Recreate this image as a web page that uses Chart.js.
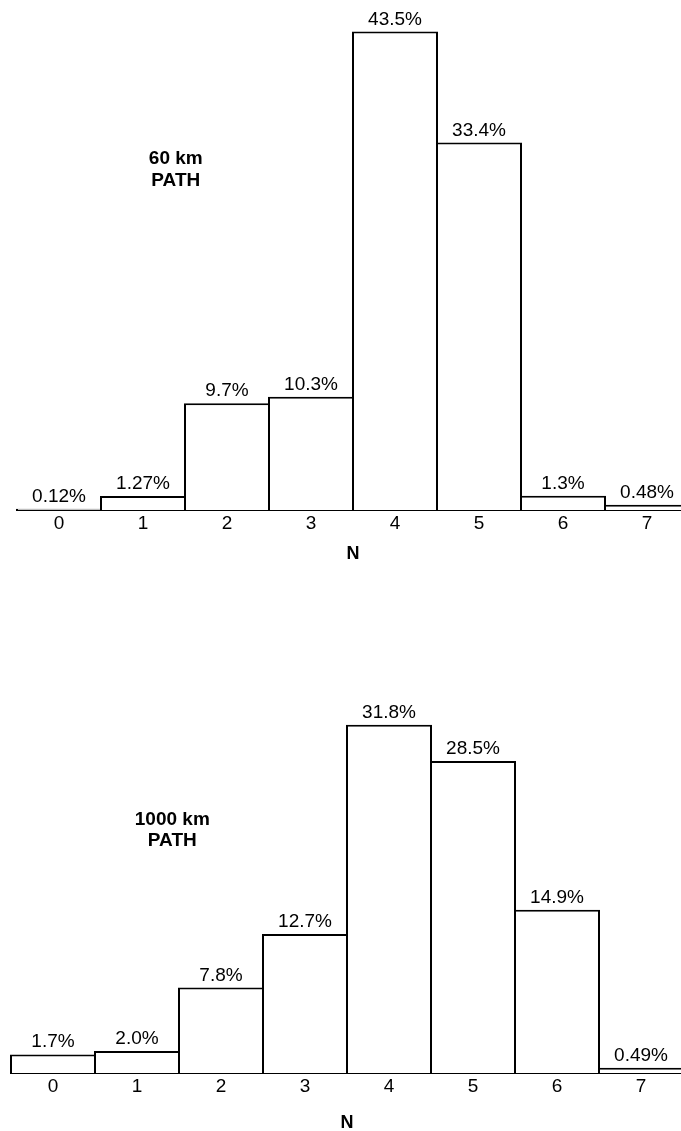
<!DOCTYPE html>
<html>
<head>
<meta charset="utf-8">
<script src="https://cdn.jsdelivr.net/npm/chart.js@4/dist/chart.umd.min.js"></script>
<style>
    html, body { margin: 0; padding: 0; background: #fff; }
    #page { position: relative; width: 681px; height: 1131px; overflow: hidden; background: #fff; }
    canvas { position: absolute; left: 0; }
    #chartTop { top: 0; }
    #chartBottom { top: 600px; }
</style>
</head>
<body>
<div id="page">
    <canvas id="chartTop" width="700" height="565"></canvas>
    <canvas id="chartBottom" width="700" height="534"></canvas>
</div>
<script>
const categories = ['0', '1', '2', '3', '4', '5', '6', '7'];

const path60Values = [0.12, 1.27, 9.7, 10.3, 43.5, 33.4, 1.3, 0.48];
const path60Labels = ['0.12%', '1.27%', '9.7%', '10.3%', '43.5%', '33.4%', '1.3%', '0.48%'];

const path1000Values = [1.7, 2.0, 7.8, 12.7, 31.8, 28.5, 14.9, 0.49];
const path1000Labels = ['1.7%', '2.0%', '7.8%', '12.7%', '31.8%', '28.5%', '14.9%', '0.49%'];

const FONT = "'Liberation Sans', Arial, sans-serif";

// value labels over each bar + the "xx km PATH" note
const barTextPlugin = {
    id: 'barText',
    afterDatasetsDraw(chart, args, opts) {
        const ctx = chart.ctx;
        const meta = chart.getDatasetMeta(0);
        ctx.save();
        ctx.fillStyle = '#000';
        ctx.textAlign = 'center';
        ctx.textBaseline = 'alphabetic';
        ctx.font = '19px ' + FONT;
        meta.data.forEach((bar, i) => {
            ctx.fillText(opts.labels[i], bar.x, bar.y - 7);
        });

        const xs = chart.scales.x, ys = chart.scales.y;
        ctx.font = 'bold 19px ' + FONT;
        ctx.textBaseline = 'middle';
        opts.note.lines.forEach((line, k) => {
            ctx.fillText(line, xs.getPixelForValue(opts.note.x), ys.getPixelForValue(opts.note.y[k]));
        });
        ctx.restore();
    }
};

function makeChart(canvasId, values, labels, note, yMax, padding, axisHeight) {
    return new Chart(document.getElementById(canvasId), {
        type: 'bar',
        data: {
            labels: categories,
            datasets: [{
                data: values,
                backgroundColor: '#fff',
                borderColor: '#000',
                borderWidth: 2,
                borderSkipped: 'start',
                categoryPercentage: 1,
                barPercentage: 86 / 84,
                clip: false
            }]
        },
        options: {
            responsive: false,
            animation: false,
            events: [],
            layout: { padding: padding },
            plugins: {
                legend: { display: false },
                tooltip: { enabled: false },
                barText: { labels: labels, note: note }
            },
            scales: {
                x: {
                    grid: { display: false, drawTicks: false },
                    border: { display: true, color: '#000', width: 2 },
                    ticks: { color: '#000', padding: 2, font: { family: FONT, size: 19 } },
                    title: {
                        display: true,
                        text: 'N',
                        color: '#000',
                        padding: { top: 0, bottom: 0 },
                        font: { family: FONT, size: 18, weight: 'bold' }
                    },
                    afterFit: (scale) => { scale.height = axisHeight; }
                },
                y: { display: false, min: 0, max: yMax }
            }
        },
        plugins: [barTextPlugin]
    });
}

makeChart('chartTop', path60Values, path60Labels,
    { lines: ['60 km', 'PATH'], x: 1.39, y: [31.9, 29.9] },
    45, { left: 17, right: 11, top: 15, bottom: 0 }, 55);

makeChart('chartBottom', path1000Values, path1000Labels,
    { lines: ['1000 km', 'PATH'], x: 1.42, y: [23.1, 21.2] },
    40, { left: 11, right: 17, top: 35, bottom: 0 }, 61);
</script>
</body>
</html>
